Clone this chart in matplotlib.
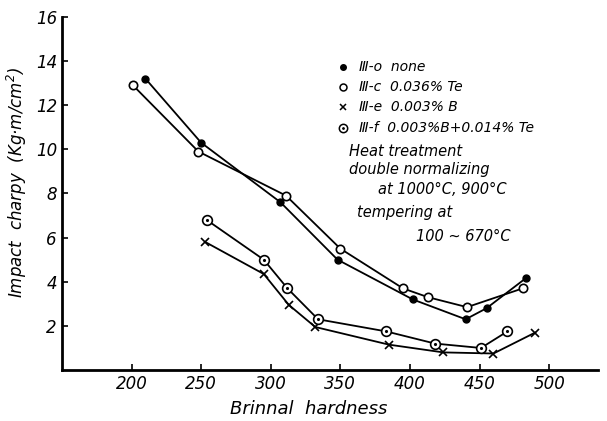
import matplotlib
matplotlib.use('Agg')
import matplotlib.pyplot as plt

# Brinell hardness vs Charpy impact value, four steels
hb_o = [210, 250, 307, 348, 402, 440, 455, 483]
ci_o = [13.2, 10.3, 7.6, 5.0, 3.2, 2.3, 2.8, 4.15]

hb_c = [201, 248, 311, 350, 395, 413, 441, 481]
ci_c = [12.9, 9.9, 7.9, 5.5, 3.7, 3.3, 2.85, 3.7]

hb_e = [253, 295, 313, 332, 385, 424, 460, 490]
ci_e = [5.8, 4.35, 2.95, 1.95, 1.15, 0.8, 0.75, 1.7]

hb_f = [254, 295, 312, 334, 383, 418, 451, 470]
ci_f = [6.8, 5.0, 3.7, 2.3, 1.75, 1.2, 1.0, 1.75]

labels = ['Ⅲ-o  none', 'Ⅲ-c  0.036% Te', 'Ⅲ-e  0.003% B', 'Ⅲ-f  0.003%B+0.014% Te']
x_ticks = [200, 250, 300, 350, 400, 450, 500]
y_ticks = [2, 4, 6, 8, 10, 12, 14, 16]
note = ['Heat treatment', 'double normalizing', 'at 1000°C, 900°C', 'tempering at', '100 ~ 670°C']

plt.rcParams['font.family'] = ['DejaVu Sans']
plt.rcParams['font.style'] = 'italic'

fig = plt.figure(figsize=(6.07, 4.21), dpi=100)
ax = fig.add_axes([0.102, 0.121, 0.883, 0.839])

lw = 1.3
ax.plot(hb_o, ci_o, color='black', lw=lw, marker='o', ms=5, mfc='black')
ax.plot(hb_c, ci_c, color='black', lw=lw, marker='o', ms=6, mfc='white', mew=1.2)
ax.plot(hb_e, ci_e, color='black', lw=lw, marker='x', ms=5.5, mew=1.2)
ax.plot(hb_f, ci_f, color='black', lw=lw, marker='o', ms=7, mfc='white', mew=1.2)
ax.plot(hb_f, ci_f, ls='none', marker='.', ms=2.5, color='black')

ax.set_xlim(150, 535)
ax.set_ylim(0, 16)
ax.set_xticks(x_ticks)
ax.set_yticks(y_ticks)
ax.tick_params(direction='in', length=4, width=1.2, labelsize=12)
for s in ['top', 'right']:
    ax.spines[s].set_visible(False)
for s in ['left', 'bottom']:
    ax.spines[s].set_linewidth(2)

ax.set_xlabel('Brinnal  hardness', fontsize=13)
ax.xaxis.set_label_coords(0.46, -0.085)
ax.set_ylabel('Impact  charpy  (Kg·m/cm$^2$)', fontsize=12)
ax.yaxis.set_label_coords(-0.062, 0.53)

# legend block drawn as text, markers placed in axes coords
leg_y = [0.858, 0.802, 0.744, 0.686]
mk = [dict(marker='o', ms=4, mfc='black', color='black'),
      dict(marker='o', ms=5, mfc='white', color='black', mew=1.1),
      dict(marker='x', ms=4.5, color='black', mew=1.1),
      dict(marker='o', ms=6, mfc='white', color='black', mew=1.1)]
for yy, lab, m in zip(leg_y, labels, mk):
    ax.plot([0.525], [yy], transform=ax.transAxes, ls='none', clip_on=False, **m)
    ax.text(0.555, yy, lab, transform=ax.transAxes, fontsize=10, va='center')
ax.plot([0.525], [leg_y[3]], transform=ax.transAxes, ls='none', marker='.', ms=2, color='black')

note_pos = [(0.535, 0.618), (0.535, 0.567), (0.59, 0.51), (0.55, 0.445), (0.66, 0.377)]
for (nx, ny), t in zip(note_pos, note):
    ax.text(nx, ny, t, transform=ax.transAxes, fontsize=10.5, va='center')

fig.savefig('out.png', dpi=100)
